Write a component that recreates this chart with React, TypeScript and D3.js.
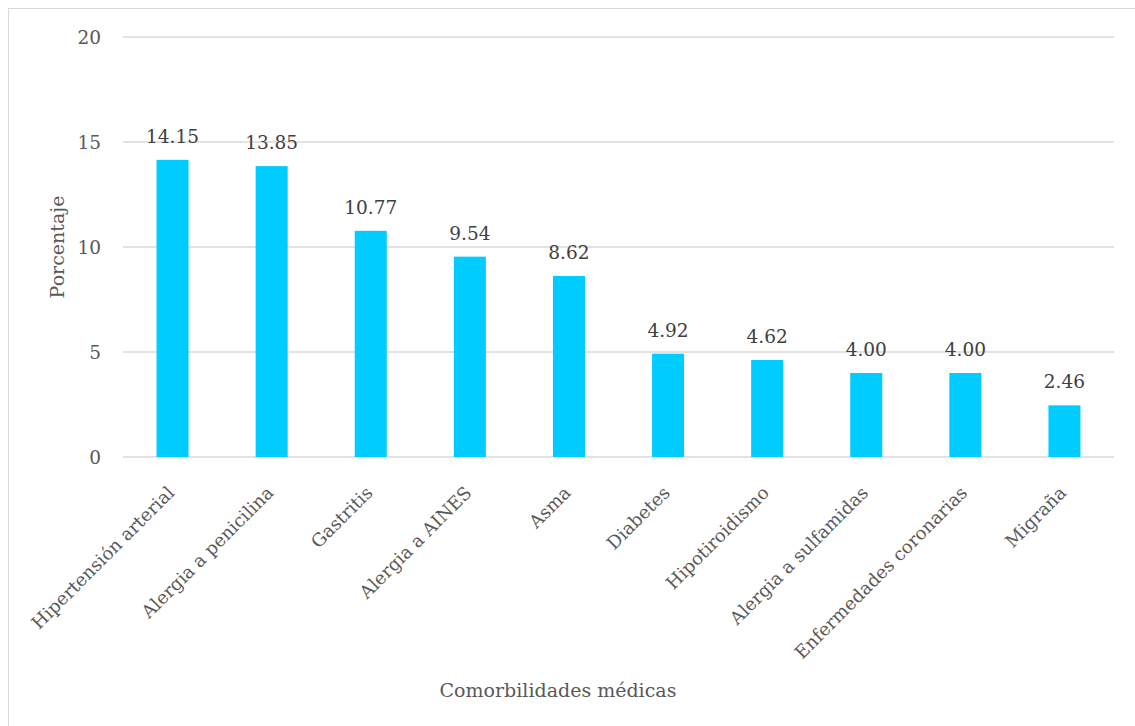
import React from "react";
import * as d3 from "d3";

const categories = [
  "Hipertensión arterial",
  "Alergia a penicilina",
  "Gastritis",
  "Alergia a AINES",
  "Asma",
  "Diabetes",
  "Hipotiroidismo",
  "Alergia a sulfamidas",
  "Enfermedades coronarias",
  "Migraña",
];
const values = [14.15, 13.85, 10.77, 9.54, 8.62, 4.92, 4.62, 4.0, 4.0, 2.46];
const yTicks = [0, 5, 10, 15, 20];
const yTitle = "Porcentaje";
const xTitle = "Comorbilidades médicas";

export default function App() {
  const W = 1135;
  const H = 726;
  const left = 123;
  const right = 1114;
  const top = 37;
  const bottom = 457;
  const x = d3.scaleBand<string>().domain(categories).range([left, right]).paddingInner(0.677).paddingOuter(0.3385);
  const y = d3.scaleLinear().domain([0, 20]).range([bottom, top]);
  const ts = { fontFamily: '"DejaVu Serif", serif' };
  return (
    <svg width={W} height={H} style={{ position: "absolute", left: 0, top: 0 }}>
      <rect x={0} y={0} width={W} height={H} fill="#fff" />
      <rect x={8.5} y={8.5} width={W + 10} height={H + 10} fill="none" stroke="#d9d9d9" strokeWidth={1} />
      {yTicks.map((t) => (
        <g key={t}>
          <line x1={left} x2={right} y1={y(t)} y2={y(t)} stroke="#d9d9d9" strokeWidth={1.3} />
          <text x={101} y={y(t)} dy="0.36em" textAnchor="end" fontSize={18.5} fill="#595959" style={ts}>
            {t}
          </text>
        </g>
      ))}
      {categories.map((c, i) => {
        const bx = x(c)!;
        const bw = x.bandwidth();
        const cx = bx + bw / 2;
        return (
          <g key={c}>
            <rect x={bx} y={y(values[i])} width={bw} height={bottom - y(values[i])} fill="#00CCFF" />
            <text x={cx} y={y(values[i]) - 17} textAnchor="middle" fontSize={18.5} fill="#404040" style={ts}>
              {values[i].toFixed(2)}
            </text>
            <text
              transform={`translate(${cx - 6},${bottom + 28}) rotate(-45)`}
              textAnchor="end"
              dy="0.7em"
              fontSize={18}
              fill="#595959"
              style={ts}
            >
              {c}
            </text>
          </g>
        );
      })}
      <text transform={`translate(64,${(top + bottom) / 2}) rotate(-90)`} textAnchor="middle" fontSize={19} fill="#595959" style={ts}>
        {yTitle}
      </text>
      <text x={558} y={697} textAnchor="middle" fontSize={19} fill="#595959" style={ts}>
        {xTitle}
      </text>
    </svg>
  );
}
